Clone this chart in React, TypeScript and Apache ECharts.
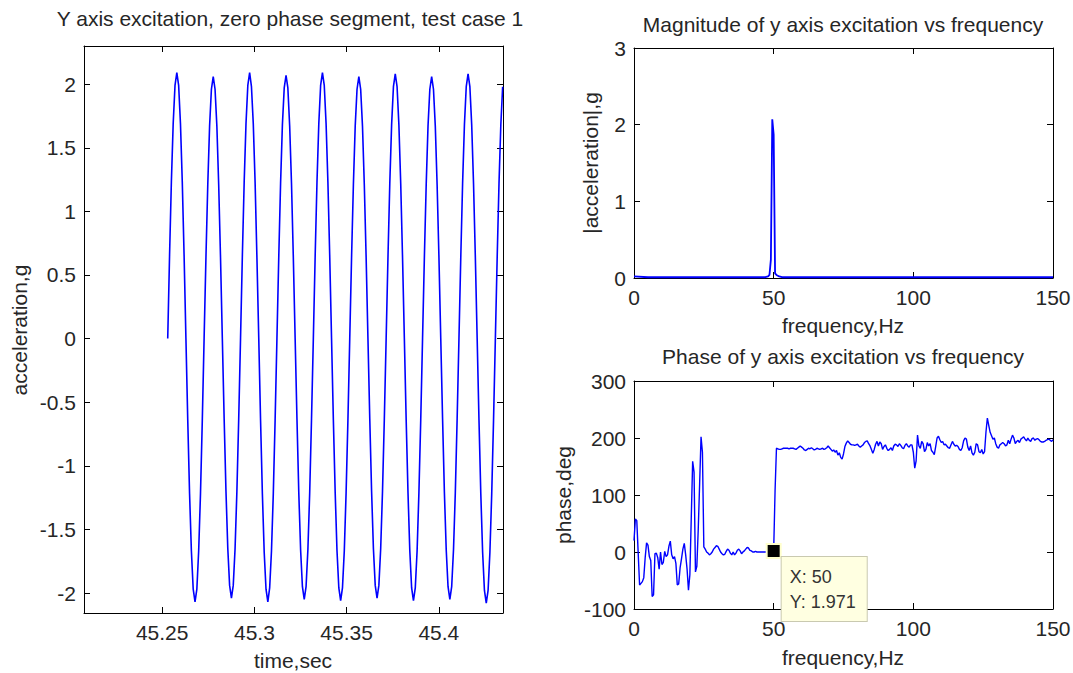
import React, { useEffect, useRef } from "react";
import * as echarts from "echarts";

// ---------- Left plot: time signal ----------
const TIME_START = 45.253; // s, first sample
const TIME_STEP = 0.000987; // s, sample spacing
const accelValues = [
  0.0, 0.65, 1.23, 1.69, 1.99, 2.09, 1.99, 1.69, 1.23, 0.65, 0.0, -0.64, -1.22, -1.67, -1.97, -2.07, -1.97, -1.67, -1.22, -0.64,
  0.01, 0.64, 1.21, 1.67, 1.96, 2.06, 1.96, 1.67, 1.21, 0.64, 0.0, -0.63, -1.2, -1.65, -1.94, -2.04, -1.94, -1.65, -1.2, -0.63,
  0.0, 0.65, 1.23, 1.69, 1.99, 2.09, 1.98, 1.69, 1.23, 0.64, 0.01, -0.64, -1.22, -1.68, -1.97, -2.07, -1.96, -1.67, -1.22, -0.64,
  0.0, 0.64, 1.22, 1.68, 1.97, 2.07, 1.97, 1.67, 1.22, 0.64, 0.0, -0.63, -1.21, -1.66, -1.95, -2.05, -1.95, -1.66, -1.21, -0.63,
  0.0, 0.65, 1.23, 1.69, 1.99, 2.09, 1.99, 1.69, 1.23, 0.65, 0.0, -0.64, -1.21, -1.67, -1.96, -2.06, -1.96, -1.67, -1.21, -0.64,
  0.0, 0.64, 1.21, 1.67, 1.96, 2.06, 1.96, 1.67, 1.21, 0.64, 0.0, -0.63, -1.2, -1.65, -1.94, -2.04, -1.94, -1.65, -1.2, -0.63,
  0.0, 0.64, 1.22, 1.68, 1.98, 2.08, 1.98, 1.68, 1.22, 0.64, 0.0, -0.64, -1.21, -1.67, -1.96, -2.06, -1.96, -1.67, -1.21, -0.64,
  0.0, 0.64, 1.21, 1.67, 1.96, 2.06, 1.96, 1.67, 1.21, 0.64, 0.0, -0.63, -1.21, -1.66, -1.95, -2.05, -1.95, -1.66, -1.21, -0.63,
  0.0, 0.64, 1.22, 1.68, 1.98, 2.08, 1.98, 1.68, 1.22, 0.64, 0.0, -0.64, -1.22, -1.68, -1.98, -2.08, -1.98, -1.68, -1.22, -0.64,
  0.0, 0.64, 1.22, 1.68, 1.98,
];
const TIME_MIN = 45.2076;
const TIME_MAX = 45.4348;
const ACC_MIN = -2.157;
const ACC_MAX = 2.3;
const timeTicks = [45.25, 45.3, 45.35, 45.4];
const accelTicks = [-2, -1.5, -1, -0.5, 0, 0.5, 1, 1.5, 2];

// ---------- Top right: magnitude ----------
const magFreq = [0, 5, 10, 15, 20, 25, 30, 35, 40, 45, 47, 48, 48.5, 49, 49.5, 50, 50.5, 51, 51.5, 52, 53, 55, 60, 70, 80, 90, 100, 110, 120, 130, 140, 150];
const magValues = [0.02, 0.01, 0.01, 0.01, 0.01, 0.01, 0.01, 0.01, 0.01, 0.01, 0.01, 0.02, 0.04, 0.24, 2.07, 1.87, 0.06, 0.04, 0.03, 0.02, 0.01, 0.01, 0.01, 0.01, 0.01, 0.01, 0.01, 0.01, 0.01, 0.01, 0.01, 0.01];
const freqTicks = [0, 50, 100, 150];
const magTicks = [0, 1, 2, 3];

// ---------- Bottom right: phase ----------
const PHASE_FREQ_START = 0; // Hz
const PHASE_FREQ_STEP = 0.5; // Hz
const phaseValues = [
  20, 58, 55, -2, -58, -55, -52, -45, -10, 16,
  12, -8, -15, -78, -75, -3, -2, -10, -30, 0,
  -22, -18, 1, -8, -5, 10, 19, -5, -12, -8,
  -20, -58, -56, -28, -12, 5, 15, -5, -30, -67,
  -40, 60, 159, 140, -35, -25, 40, 120, 202, 175,
  9, 5, 0, -2, -5, -3, 0, 5, 8, 11,
  10, 5, 0, -3, -5, -4, 1, 5, 3, -2,
  -5, 0, -5, -2, 3, 5, 2, -3, 0, 2,
  5, 8, 7, 3, 2, 0, 0, 1, 0, 0,
  0, 0, 0, 0, 0, 0, 0, 0, 0, 0.5,
  1.971, 107, 182, 181, 180, 180, 181, 182, 182, 182,
  182, 181, 182, 182, 182, 181, 180, 182, 184, 186,
  184, 182, 179, 178, 180, 182, 181, 183, 181, 179,
  180, 182, 181, 180, 181, 182, 180, 181, 183, 186,
  183, 180, 177, 179, 175, 178, 170, 174, 166, 163,
  172, 185, 191, 195, 192, 189, 188, 188, 187, 188,
  189, 186, 184, 186, 188, 192, 194, 195, 190, 186,
  180, 173, 180, 189, 194, 186, 193, 190, 180, 185,
  188, 182, 178, 180, 183, 178, 186, 189, 188, 185,
  190, 187, 183, 181, 187, 190, 186, 184, 188, 188,
  175, 147, 160, 205, 186, 182, 194, 190, 176, 180,
  192, 186, 190, 178, 175, 171, 185, 200, 203, 197,
  192, 194, 188, 189, 186, 183, 182, 188, 194, 189,
  186, 187, 185, 180, 178, 183, 195, 200, 198, 184,
  178, 186, 174, 170, 175, 190, 188, 176, 174, 180,
  172, 176, 210, 235, 222, 210, 204, 198, 200, 190,
  184, 182, 188, 190, 192, 190, 186, 188, 196, 190,
  198, 205, 200, 190, 194, 196, 192, 198, 200, 202,
  198, 195, 200, 196, 194, 199, 200, 196, 198, 199,
  197, 194, 193, 193, 194, 196, 197, 198, 196, 194,
  197,
];
const phaseTicks = [-100, 0, 100, 200, 300];
const datatipFreq = 50;
const datatipPhase = 1.971;

// ---------- Texts ----------
const leftTitle = "Y axis excitation, zero phase segment, test case 1";
const magTitle = "Magnitude of y axis excitation vs frequency";
const phaseTitle = "Phase of y axis excitation vs frequency";
const timeLabel = "time,sec";
const accelLabel = "acceleration,g";
const magLabel = "|acceleration|,g";
const freqLabel = "frequency,Hz";
const phaseLabel = "phase,deg";

const FONT = '"Liberation Sans", Arial, Helvetica, sans-serif';
const TEXT_COLOR = "#262626";
const FS = 21;
const LINE_BLUE = "#0000ff";

const G_LEFT = { left: 84, top: 46, width: 419, height: 567 };
const G_MAG = { left: 634, top: 48, width: 419, height: 230 };
const G_PHASE = { left: 634, top: 381, width: 419, height: 228 };

function fmt(v: number) {
  return String(Math.round(v * 10000) / 10000);
}

function xAxes(gridIndex: number, min: number, max: number, ticks: number[]) {
  const common = {
    type: "value",
    gridIndex,
    min,
    max,
    axisLine: { show: true, onZero: false, lineStyle: { color: "#000", width: 1 } },
    axisTick: { show: true, inside: true, length: 6, customValues: ticks, lineStyle: { color: "#000", width: 1 } },
    splitLine: { show: false },
  };
  return [
    {
      ...common,
      position: "bottom",
      axisLabel: { show: true, customValues: ticks, margin: 9, color: TEXT_COLOR, fontSize: FS, fontFamily: FONT, formatter: fmt },
    },
    { ...common, position: "top", axisLabel: { show: false } },
  ];
}

function yAxes(gridIndex: number, min: number, max: number, ticks: number[]) {
  const common = {
    type: "value",
    gridIndex,
    min,
    max,
    axisLine: { show: true, onZero: false, lineStyle: { color: "#000", width: 1 } },
    axisTick: { show: true, inside: true, length: 6, customValues: ticks, lineStyle: { color: "#000", width: 1 } },
    splitLine: { show: false },
  };
  return [
    {
      ...common,
      position: "left",
      axisLabel: { show: true, customValues: ticks, margin: 8, color: TEXT_COLOR, fontSize: FS, fontFamily: FONT, formatter: fmt },
    },
    { ...common, position: "right", axisLabel: { show: false } },
  ];
}

function txt(text: string, x: number, y: number, rotate = 0) {
  return {
    type: "text",
    x,
    y,
    rotation: rotate,
    style: {
      text,
      fill: TEXT_COLOR,
      font: `${FS}px ${FONT}`,
      align: "center",
      verticalAlign: "middle",
      textAlign: "center",
      textVerticalAlign: "middle",
    },
  };
}

export default function App() {
  const ref = useRef<HTMLDivElement>(null);

  useEffect(() => {
    if (!ref.current) return;
    const chart = echarts.init(ref.current, undefined, { renderer: "svg" });

    const accelData = accelValues.map((v, i) => [TIME_START + i * TIME_STEP, v]);
    const magData = magFreq.map((f, i) => [f, magValues[i]]);
    const phaseData = phaseValues.map((v, i) => [PHASE_FREQ_START + i * PHASE_FREQ_STEP, v]);

    const option: any = {
      animation: false,
      backgroundColor: "#ffffff",
      textStyle: { fontFamily: FONT },
      grid: [
        { ...G_LEFT, containLabel: false, outerBoundsMode: "none" },
        { ...G_MAG, containLabel: false, outerBoundsMode: "none" },
        { ...G_PHASE, containLabel: false, outerBoundsMode: "none" },
      ],
      xAxis: [
        ...xAxes(0, TIME_MIN, TIME_MAX, timeTicks),
        ...xAxes(1, 0, 150, freqTicks),
        ...xAxes(2, 0, 150, freqTicks),
      ],
      yAxis: [
        ...yAxes(0, ACC_MIN, ACC_MAX, accelTicks),
        ...yAxes(1, 0, 3, magTicks),
        ...yAxes(2, -100, 300, phaseTicks),
      ],
      series: [
        {
          type: "line",
          xAxisIndex: 0,
          yAxisIndex: 0,
          data: accelData,
          symbol: "none",
          lineStyle: { color: LINE_BLUE, width: 1.6 },
          clip: true,
        },
        {
          type: "line",
          xAxisIndex: 2,
          yAxisIndex: 2,
          data: magData,
          symbol: "none",
          lineStyle: { color: LINE_BLUE, width: 1.8 },
          clip: true,
        },
        {
          type: "line",
          xAxisIndex: 4,
          yAxisIndex: 4,
          data: phaseData,
          symbol: "none",
          lineStyle: { color: LINE_BLUE, width: 1.4 },
          clip: true,
        },
        {
          type: "scatter",
          xAxisIndex: 4,
          yAxisIndex: 4,
          data: [[datatipFreq, datatipPhase]],
          symbol: "rect",
          symbolSize: 14,
          z: 10,
          silent: true,
          clip: false,
          itemStyle: { color: "#000000", borderColor: "#ffffcc", borderWidth: 2, opacity: 1 },
          label: {
            show: true,
            position: [16, 14],
            formatter: `X: ${datatipFreq}\nY: ${datatipPhase}`,
            backgroundColor: "#ffffe1",
            borderColor: "#c9c9b0",
            borderWidth: 1,
            padding: [8, 11, 6, 8],
            fontSize: 18,
            lineHeight: 25,
            color: "#333333",
            fontFamily: FONT,
            align: "left",
            verticalAlign: "top",
          },
        },
      ],
      graphic: [
        txt(leftTitle, 290, 18),
        txt(timeLabel, 293, 660),
        txt(accelLabel, 19, 330, Math.PI / 2),
        txt(magTitle, 843, 24),
        txt(freqLabel, 843, 325),
        txt(magLabel, 590, 163, Math.PI / 2),
        txt(phaseTitle, 843, 356),
        txt(freqLabel, 843, 657),
        txt(phaseLabel, 563, 495, Math.PI / 2),
      ],
    };

    chart.setOption(option);
    return () => chart.dispose();
  }, []);

  return (
    <div
      ref={ref}
      style={{ position: "fixed", left: 0, top: 0, width: 1073, height: 673, background: "#fff" }}
    />
  );
}
